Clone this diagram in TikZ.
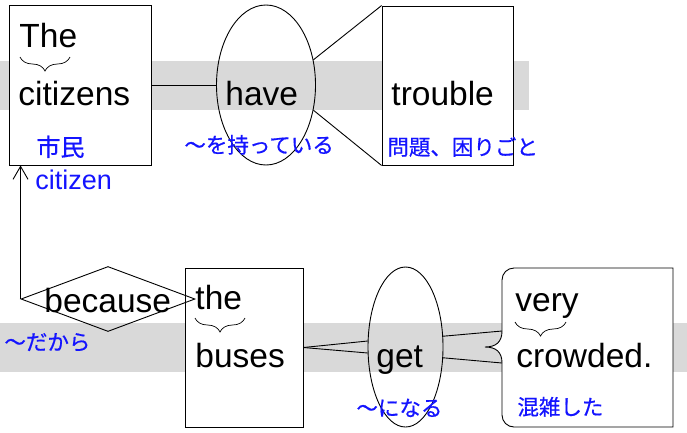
\documentclass[tikz,border=0pt]{standalone}
\usepackage{fontspec}
\setmainfont{Liberation Sans}
\newfontfamily\jpfont[FakeBold=0.6]{Noto Sans CJK JP}
\usepackage{xcolor}
\usetikzlibrary{positioning, arrows.meta, shapes.geometric}
\usetikzlibrary{decorations.pathreplacing}
\definecolor{bandgray}{RGB}{217,217,217}
\definecolor{glossblue}{RGB}{20,20,255}

\begin{document}
\begin{tikzpicture}[x=1pt, y=-1pt, line width=0.9pt,
    wordbox/.style={draw, fill=white, inner sep=0pt},
    verbell/.style={draw, ellipse, inner sep=0pt},
    word/.style={anchor=base west, inner sep=0pt, font=\fontsize{33.5}{36}\selectfont},
    gloss/.style={anchor=base west, inner sep=0pt, text=glossblue, font=\jpfont\fontsize{21.5}{24}\selectfont},
    underbr/.style={line width=0.7pt, decorate, decoration={brace, mirror, amplitude=14pt}}]
    % Frame and bands
    \useasboundingbox (0,0) rectangle (687,432);
    \fill[bandgray] (0,61) rectangle (529,110);
    \fill[bandgray] (0,323) rectangle (687,372);

    % Upper row
    \node[wordbox, minimum width=142pt, minimum height=160pt] (citizens) at (80,85) {};
    \node[verbell, minimum width=99pt, minimum height=160pt] (have) at (266,85) {};
    \node[wordbox, minimum width=131pt, minimum height=159pt] (trouble) at (447.5,85.5) {};
    \draw (citizens.east) -- (have.west);
    \draw (have.28) -- (trouble.north west);
    \draw (have.-28) -- (trouble.south west);

    % Lower row
    \node[wordbox, minimum width=118pt, minimum height=159pt] (buses) at (244,347.5) {};
    \node[draw, diamond, minimum width=174pt, minimum height=65pt, inner sep=0pt] (because) at (108,299) {};
    \node[verbell, minimum width=75pt, minimum height=160pt] (get) at (405.5,347) {};
    \draw[fill=white] (502,331) -- (502,280) arc[start angle=180, end angle=90, radius=12pt]
      -- (673,268) -- (673,427) -- (514,427) arc[start angle=270, end angle=180, radius=12pt]
      -- (502,363) .. controls (502,352) and (496,347) .. (485,347)
      .. controls (496,347) and (502,342) .. (502,331) -- cycle;
    \coordinate (crowdup) at (502,331);
    \coordinate (crowdlo) at (502,363);
    \draw[-{Straight Barb[length=13pt, width=15pt]}] (because.west) -- (because.west |- citizens.south);
    \draw (buses.east) -- (get.171);
    \draw (buses.east) -- (get.189);
    \draw (get.16) -- (crowdup);
    \draw (get.-16) -- (crowdlo);

    % Words
    \node[word] (the1) at (19,47) {The};
    \node[word] (citizensw) at (18,105) {citizens};
    \node[word] (havew) at (225,105) {have};
    \node[word] (troublew) at (391,105) {trouble};
    \node[word] (becausew) at (44,312) {because};
    \node[word] (the2) at (195,309) {the};
    \node[word] (busesw) at (195,367) {buses};
    \node[word] (getw) at (376,367) {get};
    \node[word] (veryw) at (515,311) {very};
    \node[word] (crowdedw) at (516,367) {crowded.};

    % Braces
    \draw[underbr] (20,57) -- (70,57);
    \draw[underbr] (195,318) -- (245,318);
    \draw[underbr] (515,322) -- (566,322);

    % Glosses
    \node[gloss, font=\jpfont\fontsize{24}{26}\selectfont] (citizensjp) at (36,156) {市民};
    \node[gloss, font=\fontsize{27}{30}\selectfont] (citizensen) at (35,189) {citizen};
    \node[gloss] (havejp) at (184,153) {～を持っている};
    \node[gloss] (troublejp) at (387,155) {問題、困りごと};
    \node[gloss] (becausejp) at (4,350) {～だから};
    \node[gloss] (getjp) at (356,416) {～になる};
    \node[gloss] (crowdedjp) at (517,415) {混雑した};
\end{tikzpicture}
\end{document}
